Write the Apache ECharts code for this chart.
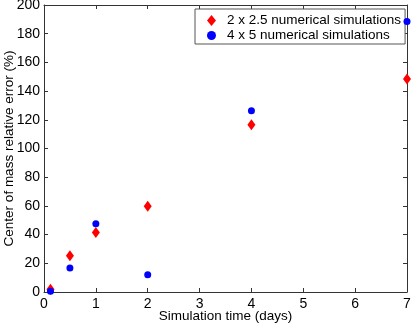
<!DOCTYPE html>
<html>
<head>
<meta charset="utf-8">
<script src="https://cdn.jsdelivr.net/npm/echarts@6/dist/echarts.min.js"></script>
<style>
  html, body { margin: 0; padding: 0; background: #fff; }
  #chart { width: 415px; height: 325px; }
</style>
</head>
<body>
<div id="chart"></div>
<script>
// simulation times (days)
var times = [0.125, 0.5, 1, 2, 4, 7]
// relative error (%)
var errFine = [2, 25.3, 41.5, 59.7, 116.5, 148.5]   // 2 x 2.5
var errCoarse = [0.5, 16.7, 47.6, 12, 126.3, 188.5] // 4 x 5
var xTicks = [0, 1, 2, 3, 4, 5, 6, 7]
var yTicks = [0, 20, 40, 60, 80, 100, 120, 140, 160, 180, 200]

function pairs(xs, ys) {
  return xs.map(function(x, i) { return [x, ys[i]] })
}

var font = 'Liberation Sans, Arial, Helvetica, sans-serif'
var axisColor = '#333'

function mainAxis(ticks, name, extra) {
  return Object.assign({
    type: 'value',
    min: ticks[0],
    max: ticks[ticks.length - 1],
    interval: ticks[1] - ticks[0],
    name: name,
    nameLocation: 'middle',
    nameMoveOverlap: false,
    nameTextStyle: { color: '#000', fontSize: 13.5, fontFamily: font },
    axisLine: { show: true, onZero: false, lineStyle: { color: axisColor, width: 1 } },
    axisTick: { show: true, inside: true, length: 4, lineStyle: { color: axisColor } },
    splitLine: { show: false }
  }, extra)
}

function mirrorAxis(ticks, position) {
  return {
    type: 'value',
    position: position,
    min: ticks[0],
    max: ticks[ticks.length - 1],
    interval: ticks[1] - ticks[0],
    axisLine: { show: true, onZero: false, lineStyle: { color: axisColor, width: 1 } },
    axisTick: { show: true, inside: true, length: 4, lineStyle: { color: axisColor } },
    axisLabel: { show: false },
    splitLine: { show: false }
  }
}

var chart = echarts.init(document.getElementById('chart'), null, { renderer: 'canvas' })
chart.setOption({
  animation: false,
  backgroundColor: '#fff',
  grid: { left: 44, right: 8, top: 5, bottom: 33, containLabel: false, outerBoundsMode: 'none' },
  xAxis: [
    mainAxis(xTicks, 'Simulation time (days)', {
      position: 'bottom',
      nameGap: 17,
      axisLabel: { color: '#000', fontSize: 14, fontFamily: font, margin: 5 }
    }),
    mirrorAxis(xTicks, 'top')
  ],
  yAxis: [
    mainAxis(yTicks, 'Center of mass relative error (%)', {
      position: 'left',
      nameGap: 28,
      axisLabel: { color: '#000', fontSize: 14, fontFamily: font, margin: 4 }
    }),
    mirrorAxis(yTicks, 'right')
  ],
  legend: {
    orient: 'vertical',
    left: 195,
    top: 9,
    padding: [4, 4, 1, 12],
    itemGap: 0,
    itemWidth: 9,
    itemHeight: 11,
    borderColor: '#555',
    borderWidth: 1,
    backgroundColor: '#fff',
    textStyle: { color: '#000', fontSize: 13.5, fontFamily: font, lineHeight: 15, padding: [0, 0, 0, 6] },
    data: ['2 x 2.5 numerical simulations', '4 x 5 numerical simulations']
  },
  series: [
    {
      name: '2 x 2.5 numerical simulations',
      type: 'scatter',
      clip: false,
      symbol: 'diamond',
      symbolSize: [8, 11],
      itemStyle: { color: '#ff0000', opacity: 1 },
      data: pairs(times, errFine),
      z: 3
    },
    {
      name: '4 x 5 numerical simulations',
      type: 'scatter',
      clip: false,
      symbol: 'circle',
      symbolSize: 7,
      symbolKeepAspect: true,
      itemStyle: { color: '#0000ff', opacity: 1 },
      data: pairs(times, errCoarse),
      z: 10,
      zlevel: 1
    }
  ]
})
</script>
</body>
</html>
